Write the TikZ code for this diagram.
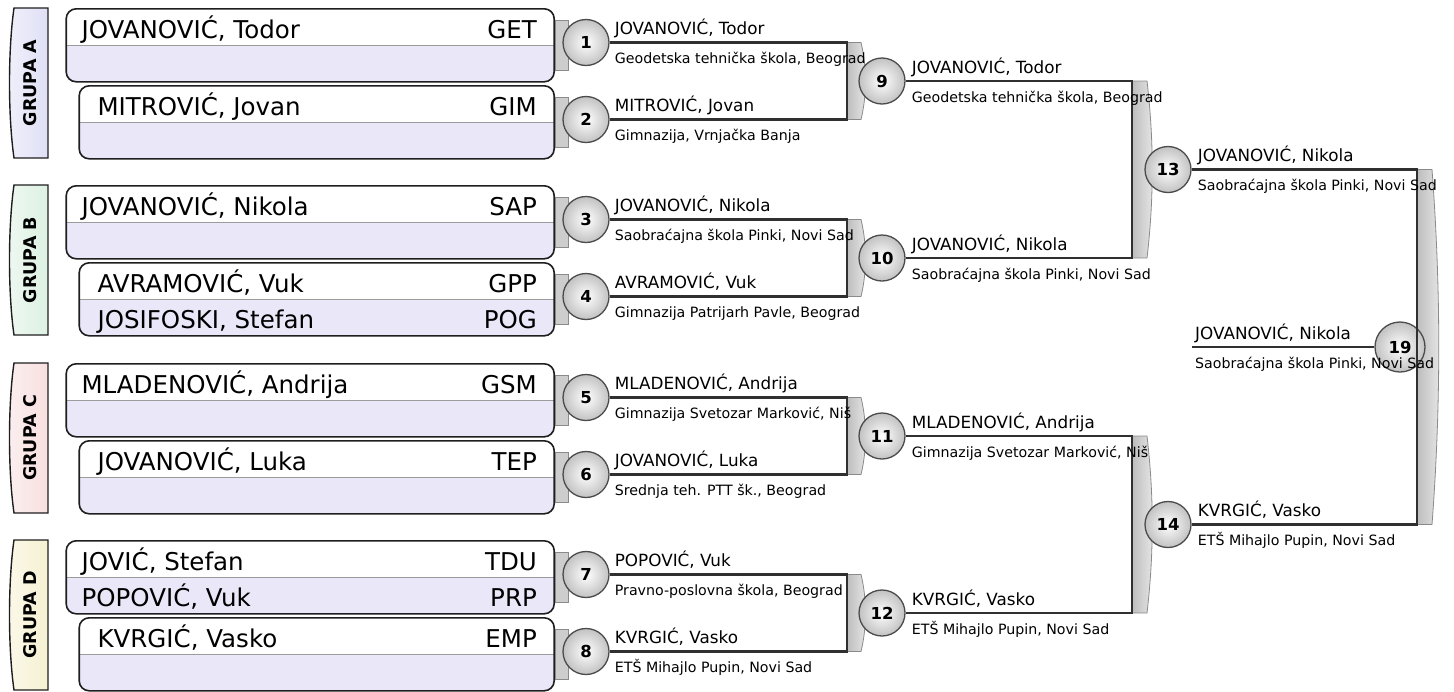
\documentclass[tikz,border=0pt]{standalone}
\usepackage{fontspec}
\setmainfont{DejaVu Sans}
\usetikzlibrary{calc}
\definecolor{brink}{HTML}{1E1E1E}
\definecolor{brline}{HTML}{303030}
\definecolor{brlav}{HTML}{E9E7F8}
\definecolor{brdiv}{HTML}{9C9C9C}
\definecolor{brbarL}{HTML}{BDBDBD}
\definecolor{brbarR}{HTML}{E8E8E8}
\definecolor{brbarE}{HTML}{8A8A8A}
\definecolor{brball}{HTML}{C2C2C2}
\definecolor{grpA}{HTML}{E0E0F6}
\definecolor{grpB}{HTML}{DDF1E2}
\definecolor{grpC}{HTML}{F8DFDF}
\definecolor{grpD}{HTML}{F6F1D2}
\tikzset{
  br text/.style={text=black},
  br card/.style={draw=brink, line width=1.6pt, rounded corners=10pt, fill=brlav,
    minimum height=73pt, inner sep=0pt, anchor=north east,
    path picture={
      \fill[white, sharp corners] (path picture bounding box.north west) rectangle (path picture bounding box.east);
      \draw[brdiv, line width=0.8pt] (path picture bounding box.west) -- (path picture bounding box.east);}},
  br player/.style={font=\fontsize{24.5}{27}\selectfont, inner sep=0pt, anchor=base west},
  br code/.style={font=\fontsize{24.5}{27}\selectfont, inner sep=0pt, anchor=base east},
  br tab/.style={draw=brbarE, line width=0.8pt, fill=brbarL!75!white},
  br bar/.style={draw=brbarE, line width=0.8pt, left color=brbarL, right color=brbarR},
  br line/.style={draw=brline, line width=2.4pt},
  br ball/.style={circle, draw=brink!80, line width=1.3pt, inner color=white,
    outer color=brball, minimum size=46pt, inner sep=0pt,
    font=\fontsize{16.5}{17}\selectfont\bfseries},
  br name/.style={font=\fontsize{16.8}{18}\selectfont, inner sep=0pt, anchor=base west},
  br school/.style={font=\fontsize{14.2}{15}\selectfont, inner sep=0pt, anchor=base west},
  br group/.style={draw=brink, line width=1.4pt},
  br grouptext/.style={font=\fontsize{17.5}{18}\selectfont\bfseries, rotate=90}
}

\begin{document}
\begin{tikzpicture}[br text, x=1pt, y=-1pt]
  \useasboundingbox (0,0) rectangle (1454,691);

  % group tabs
  \path[br group, left color=white!50!grpA, right color=grpA] (48,8) -- (14,8) .. controls (8,50) and (8,116) .. (14,158) -- (48,158) -- cycle;
  \node[br grouptext] (gA) at (30,83) {GRUPA A};
  \path[br group, left color=white!50!grpB, right color=grpB] (48,185) -- (14,185) .. controls (8,227) and (8,293) .. (14,335) -- (48,335) -- cycle;
  \node[br grouptext] (gB) at (30,260) {GRUPA B};
  \path[br group, left color=white!50!grpC, right color=grpC] (48,363) -- (14,363) .. controls (8,405) and (8,471) .. (14,513) -- (48,513) -- cycle;
  \node[br grouptext] (gC) at (30,438) {GRUPA C};
  \path[br group, left color=white!50!grpD, right color=grpD] (48,540) -- (14,540) .. controls (8,582) and (8,648) .. (14,690) -- (48,690) -- cycle;
  \node[br grouptext] (gD) at (30,615) {GRUPA D};

  % player cards
  \node[br card, minimum width=488pt] (cA1) at (555,8) {};
  \node[br card, minimum width=475pt] (cA2) at (555,85) {};
  \node[br card, minimum width=488pt] (cB1) at (555,185) {};
  \node[br card, minimum width=475pt] (cB2) at (555,262) {};
  \node[br card, minimum width=488pt] (cC1) at (555,363) {};
  \node[br card, minimum width=475pt] (cC2) at (555,440) {};
  \node[br card, minimum width=488pt] (cD1) at (555,540) {};
  \node[br card, minimum width=475pt] (cD2) at (555,617) {};

  \node[br player] (pA1) at ($(cA1.north west)+(16,30)$) {JOVANOVIĆ, Todor};
  \node[br code] (kA1) at ($(cA1.north east)+(-18,30)$) {GET};
  \node[br player] (pA2) at ($(cA2.north west)+(19,30)$) {MITROVIĆ, Jovan};
  \node[br code] (kA2) at ($(cA2.north east)+(-18,30)$) {GIM};
  \node[br player] (pB1) at ($(cB1.north west)+(16,30)$) {JOVANOVIĆ, Nikola};
  \node[br code] (kB1) at ($(cB1.north east)+(-18,30)$) {SAP};
  \node[br player] (pB2) at ($(cB2.north west)+(19,30)$) {AVRAMOVIĆ, Vuk};
  \node[br code] (kB2) at ($(cB2.north east)+(-18,30)$) {GPP};
  \node[br player] (pB3) at ($(cB2.north west)+(19,66)$) {JOSIFOSKI, Stefan};
  \node[br code] (kB3) at ($(cB2.north east)+(-18,66)$) {POG};
  \node[br player] (pC1) at ($(cC1.north west)+(16,30)$) {MLADENOVIĆ, Andrija};
  \node[br code] (kC1) at ($(cC1.north east)+(-18,30)$) {GSM};
  \node[br player] (pC2) at ($(cC2.north west)+(19,30)$) {JOVANOVIĆ, Luka};
  \node[br code] (kC2) at ($(cC2.north east)+(-18,30)$) {TEP};
  \node[br player] (pD1) at ($(cD1.north west)+(16,30)$) {JOVIĆ, Stefan};
  \node[br code] (kD1) at ($(cD1.north east)+(-18,30)$) {TDU};
  \node[br player] (pD2) at ($(cD1.north west)+(16,66)$) {POPOVIĆ, Vuk};
  \node[br code] (kD2) at ($(cD1.north east)+(-18,66)$) {PRP};
  \node[br player] (pD3) at ($(cD2.north west)+(19,30)$) {KVRGIĆ, Vasko};
  \node[br code] (kD3) at ($(cD2.north east)+(-18,30)$) {EMP};

  % small tabs between cards and first round
  \draw[br tab] ([yshift=-12pt]cA1.north east) rectangle ([xshift=13pt,yshift=12pt]cA1.south east);
  \draw[br tab] ([yshift=-12pt]cA2.north east) rectangle ([xshift=13pt,yshift=12pt]cA2.south east);
  \draw[br tab] ([yshift=-12pt]cB1.north east) rectangle ([xshift=13pt,yshift=12pt]cB1.south east);
  \draw[br tab] ([yshift=-12pt]cB2.north east) rectangle ([xshift=13pt,yshift=12pt]cB2.south east);
  \draw[br tab] ([yshift=-12pt]cC1.north east) rectangle ([xshift=13pt,yshift=12pt]cC1.south east);
  \draw[br tab] ([yshift=-12pt]cC2.north east) rectangle ([xshift=13pt,yshift=12pt]cC2.south east);
  \draw[br tab] ([yshift=-12pt]cD1.north east) rectangle ([xshift=13pt,yshift=12pt]cD1.south east);
  \draw[br tab] ([yshift=-12pt]cD2.north east) rectangle ([xshift=13pt,yshift=12pt]cD2.south east);

  % bracket corners
  \coordinate (c9t) at (847,42.5);   \coordinate (c9b) at (847,119.5);
  \coordinate (c10t) at (847,219.5); \coordinate (c10b) at (847,296.5);
  \coordinate (c11t) at (847,397.5); \coordinate (c11b) at (847,474.5);
  \coordinate (c12t) at (847,574.5); \coordinate (c12b) at (847,651.5);
  \coordinate (c13t) at (1132,81);   \coordinate (c13b) at (1132,258);
  \coordinate (c14t) at (1132,436);  \coordinate (c14b) at (1132,613);
  \coordinate (c19t) at (1417,169.5); \coordinate (c19b) at (1417,524.5);
  \coordinate (f19) at (1192,347);

  % grey bars
  \path[br bar] (c9t) -- ++(14,0) .. controls +(6,25) and +(6,-25) .. ($(c9b)+(14,0)$) -- (c9b) -- cycle;
  \path[br bar] (c10t) -- ++(14,0) .. controls +(6,25) and +(6,-25) .. ($(c10b)+(14,0)$) -- (c10b) -- cycle;
  \path[br bar] (c11t) -- ++(14,0) .. controls +(6,25) and +(6,-25) .. ($(c11b)+(14,0)$) -- (c11b) -- cycle;
  \path[br bar] (c12t) -- ++(14,0) .. controls +(6,25) and +(6,-25) .. ($(c12b)+(14,0)$) -- (c12b) -- cycle;
  \path[br bar] (c13t) -- ++(15,0) .. controls +(7,60) and +(7,-60) .. ($(c13b)+(15,0)$) -- (c13b) -- cycle;
  \path[br bar] (c14t) -- ++(15,0) .. controls +(7,60) and +(7,-60) .. ($(c14b)+(15,0)$) -- (c14b) -- cycle;
  \path[br bar] (c19t) -- ++(15,0) .. controls +(9,120) and +(9,-120) .. ($(c19b)+(15,0)$) -- (c19b) -- cycle;

  % matches
  \node[br ball] (m1) at (586,42.5) {1};
  \node[br ball] (m2) at (586,119.5) {2};
  \node[br ball] (m3) at (586,219.5) {3};
  \node[br ball] (m4) at (586,296.5) {4};
  \node[br ball] (m5) at (586,397.5) {5};
  \node[br ball] (m6) at (586,474.5) {6};
  \node[br ball] (m7) at (586,574.5) {7};
  \node[br ball] (m8) at (586,651.5) {8};
  \node[br ball] (m9) at (882,81) {9};
  \node[br ball] (m10) at (882,258) {10};
  \node[br ball] (m11) at (882,436) {11};
  \node[br ball] (m12) at (882,613) {12};
  \node[br ball] (m13) at (1168,169.5) {13};
  \node[br ball] (m14) at (1168,524.5) {14};
  \node[br ball, minimum size=50pt] (m19) at (1400,347) {19};

  \draw[br line] (m1) -- (c9t) -- (c9b) -- (m2);
  \draw[br line] (m3) -- (c10t) -- (c10b) -- (m4);
  \draw[br line] (m5) -- (c11t) -- (c11b) -- (m6);
  \draw[br line] (m7) -- (c12t) -- (c12b) -- (m8);
  \draw[br line] (m9) -- (c13t) -- (c13b) -- (m10);
  \draw[br line] (m11) -- (c14t) -- (c14b) -- (m12);
  \draw[br line] (m13) -- (c19t) -- (c19b) -- (m14);
  \draw[br line] (f19) -- (m19);

  % winners
  \node[br name] (w1) at ($(m1.east)+(5,-8)$) {JOVANOVIĆ, Todor};
  \node[br school] (s1) at ($(m1.east)+(5,21)$) {Geodetska tehnička škola, Beograd};
  \node[br name] (w2) at ($(m2.east)+(5,-8)$) {MITROVIĆ, Jovan};
  \node[br school] (s2) at ($(m2.east)+(5,21)$) {Gimnazija, Vrnjačka Banja};
  \node[br name] (w3) at ($(m3.east)+(5,-8)$) {JOVANOVIĆ, Nikola};
  \node[br school] (s3) at ($(m3.east)+(5,21)$) {Saobraćajna škola Pinki, Novi Sad};
  \node[br name] (w4) at ($(m4.east)+(5,-8)$) {AVRAMOVIĆ, Vuk};
  \node[br school] (s4) at ($(m4.east)+(5,21)$) {Gimnazija Patrijarh Pavle, Beograd};
  \node[br name] (w5) at ($(m5.east)+(5,-8)$) {MLADENOVIĆ, Andrija};
  \node[br school] (s5) at ($(m5.east)+(5,21)$) {Gimnazija Svetozar Marković, Niš};
  \node[br name] (w6) at ($(m6.east)+(5,-8)$) {JOVANOVIĆ, Luka};
  \node[br school] (s6) at ($(m6.east)+(5,21)$) {Srednja teh. PTT šk., Beograd};
  \node[br name] (w7) at ($(m7.east)+(5,-8)$) {POPOVIĆ, Vuk};
  \node[br school] (s7) at ($(m7.east)+(5,21)$) {Pravno-poslovna škola, Beograd};
  \node[br name] (w8) at ($(m8.east)+(5,-8)$) {KVRGIĆ, Vasko};
  \node[br school] (s8) at ($(m8.east)+(5,21)$) {ETŠ Mihajlo Pupin, Novi Sad};
  \node[br name] (w9) at ($(m9.east)+(6,-8)$) {JOVANOVIĆ, Todor};
  \node[br school] (s9) at ($(m9.east)+(6,21)$) {Geodetska tehnička škola, Beograd};
  \node[br name] (w10) at ($(m10.east)+(6,-8)$) {JOVANOVIĆ, Nikola};
  \node[br school] (s10) at ($(m10.east)+(6,21)$) {Saobraćajna škola Pinki, Novi Sad};
  \node[br name] (w11) at ($(m11.east)+(6,-8)$) {MLADENOVIĆ, Andrija};
  \node[br school] (s11) at ($(m11.east)+(6,21)$) {Gimnazija Svetozar Marković, Niš};
  \node[br name] (w12) at ($(m12.east)+(6,-8)$) {KVRGIĆ, Vasko};
  \node[br school] (s12) at ($(m12.east)+(6,21)$) {ETŠ Mihajlo Pupin, Novi Sad};
  \node[br name] (w13) at ($(m13.east)+(6,-8)$) {JOVANOVIĆ, Nikola};
  \node[br school] (s13) at ($(m13.east)+(6,21)$) {Saobraćajna škola Pinki, Novi Sad};
  \node[br name] (w14) at ($(m14.east)+(6,-8)$) {KVRGIĆ, Vasko};
  \node[br school] (s14) at ($(m14.east)+(6,21)$) {ETŠ Mihajlo Pupin, Novi Sad};
  \node[br name] (w19) at ($(f19)+(3,-8)$) {JOVANOVIĆ, Nikola};
  \node[br school] (s19) at ($(f19)+(3,21)$) {Saobraćajna škola Pinki, Novi Sad};
\end{tikzpicture}
\end{document}
